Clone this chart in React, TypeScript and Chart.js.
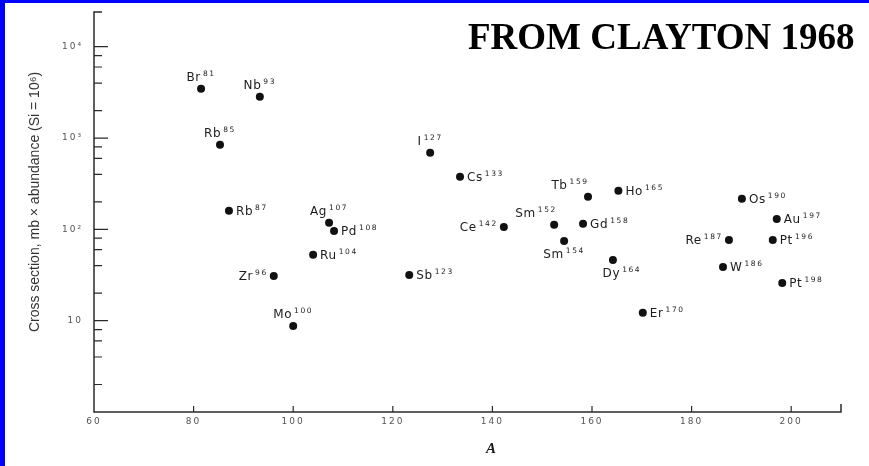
import React, { useEffect, useRef } from 'react';
import { Chart, registerables } from 'chart.js';

Chart.register(...registerables);

// ---- Data (Clayton 1968) ----
const symbols = ['Br', 'Nb', 'Rb', 'Rb', 'Zr', 'Mo', 'Ru', 'Ag', 'Pd', 'Sb', 'I', 'Cs', 'Ce', 'Sm', 'Sm', 'Gd', 'Tb', 'Dy', 'Ho', 'Er', 'W', 'Re', 'Os', 'Pt', 'Au', 'Pt'];
const massNumbers = [81, 93, 85, 87, 96, 100, 104, 107, 108, 123, 127, 133, 142, 152, 154, 158, 159, 164, 165, 170, 186, 187, 190, 196, 197, 198];
const aValues = [81.5, 93.3, 85.3, 87.1, 96.1, 100.0, 104.0, 107.2, 108.2, 123.3, 127.5, 133.5, 142.3, 152.4, 154.4, 158.2, 159.2, 164.2, 165.3, 170.2, 186.3, 187.5, 190.1, 196.3, 197.1, 198.2];
const sigmaN = [3467, 2832, 843, 160, 30.9, 8.75, 52.6, 118, 96, 31.7, 689, 376, 106, 112, 74.8, 115, 227, 46.3, 264, 12.2, 38.8, 76.7, 216, 76.7, 130, 25.9];
const labelPlacement = ['above', 'above', 'above', 'right', 'left', 'above', 'right', 'above', 'right', 'right', 'above', 'right', 'left', 'aboveLeft', 'below', 'right', 'aboveLeft', 'belowRight', 'right', 'right', 'right', 'left', 'right', 'right', 'right', 'right'];

const xTicks = [60, 80, 100, 120, 140, 160, 180, 200];
const yMajorTicks = [10, 100, 1000, 10000];
const yMajorLabels = ['10', '10²', '10³', '10⁴'];
const yMinorTicks = [2, 4, 6, 8, 20, 40, 60, 80, 200, 400, 600, 800, 2000, 4000, 6000, 8000];

const titleText = 'FROM CLAYTON 1968';
const yTitle = 'Cross section, mb × abundance (Si = 10⁶)';
const xTitle = 'A';

const INK = '#1c1c1c';

function drawLabel(ctx: CanvasRenderingContext2D, sym: string, mass: number, px: number, py: number, place: string) {
  const symFont = '12px "DejaVu Sans"';
  const supFont = '7.5px "DejaVu Sans"';
  ctx.font = symFont;
  (ctx as any).letterSpacing = '0.6px';
  const w1 = ctx.measureText(sym).width;
  ctx.font = supFont;
  (ctx as any).letterSpacing = '1.6px';
  const sup = String(mass);
  const w2 = ctx.measureText(sup).width;
  const gap = 2;
  const total = w1 + gap + w2;
  let x0 = px + 7;
  let base = py + 4;
  switch (place) {
    case 'above': x0 = px - total / 2; base = py - 8; break;
    case 'aboveLeft': x0 = px - 18 - total / 2; base = py - 8; break;
    case 'right': x0 = px + 7; base = py + 4; break;
    case 'left': x0 = px - 6 - total; base = py + 4; break;
    case 'below': x0 = px - total / 2; base = py + 17; break;
    case 'belowRight': x0 = px + 9 - total / 2; base = py + 17; break;
  }
  ctx.fillStyle = INK;
  ctx.textAlign = 'left';
  ctx.textBaseline = 'alphabetic';
  ctx.font = symFont;
  (ctx as any).letterSpacing = '0.6px';
  ctx.fillText(sym, x0, base);
  ctx.font = supFont;
  (ctx as any).letterSpacing = '1.6px';
  ctx.fillText(sup, x0 + w1 + gap, base - 5);
  (ctx as any).letterSpacing = '0px';
}

const decorPlugin = {
  id: 'decor',
  beforeDraw(chart: any) {
    (chart.ctx as any).letterSpacing = '2px';
  },
  beforeDatasetsDraw(chart: any) {
    (chart.ctx as any).letterSpacing = '0px';
  },
  afterDraw(chart: any) {
    const ctx: CanvasRenderingContext2D = chart.ctx;
    const xs = chart.scales.x;
    const ys = chart.scales.y;
    const { left, right, top, bottom } = chart.chartArea;
    ctx.save();
    (ctx as any).letterSpacing = '0px';

    // axes
    ctx.strokeStyle = '#2a2a2a';
    ctx.lineWidth = 1.5;
    ctx.beginPath();
    ctx.moveTo(left + 8, top);
    ctx.lineTo(left, top);
    ctx.lineTo(left, bottom);
    ctx.lineTo(right, bottom);
    ctx.lineTo(right, bottom - 8);
    ctx.stroke();

    ctx.lineWidth = 1.2;
    ctx.beginPath();
    for (const v of xTicks.slice(1)) {
      const x = xs.getPixelForValue(v);
      ctx.moveTo(x, bottom);
      ctx.lineTo(x, bottom - 6);
    }
    for (const v of yMajorTicks) {
      const y = ys.getPixelForValue(v);
      ctx.moveTo(left, y);
      ctx.lineTo(left + 14, y);
    }
    for (const v of yMinorTicks) {
      const y = ys.getPixelForValue(v);
      ctx.moveTo(left, y);
      ctx.lineTo(left + 8, y);
    }
    ctx.stroke();

    // point labels
    const meta = chart.getDatasetMeta(0);
    meta.data.forEach((pt: any, i: number) => {
      drawLabel(ctx, symbols[i], massNumbers[i], pt.x, pt.y, labelPlacement[i]);
    });

    // y title
    ctx.save();
    ctx.translate(35, 202);
    ctx.rotate(-Math.PI / 2);
    ctx.font = '14px "Liberation Sans"';
    ctx.fillStyle = '#333';
    ctx.textAlign = 'center';
    ctx.textBaseline = 'middle';
    ctx.fillText(yTitle, 0, 0);
    ctx.restore();

    // x title
    ctx.font = 'italic bold 15px "Liberation Serif"';
    ctx.fillStyle = INK;
    ctx.textAlign = 'center';
    ctx.textBaseline = 'alphabetic';
    ctx.fillText(xTitle, 491, 453);

    // main title
    ctx.font = 'bold 37px "Liberation Serif"';
    ctx.fillStyle = '#000';
    ctx.textAlign = 'left';
    ctx.fillText(titleText, 468, 49);

    // blue frame
    ctx.fillStyle = '#0000ff';
    ctx.fillRect(0, 0, 5, chart.height);
    ctx.fillRect(0, 0, chart.width, 3);
    ctx.restore();
  },
};

export default function App() {
  const ref = useRef<HTMLCanvasElement | null>(null);
  useEffect(() => {
    document.body.style.margin = '0';
    if (!ref.current) return;
    const chart = new Chart(ref.current, {
      type: 'scatter',
      data: {
        datasets: [
          {
            data: aValues.map((x, i) => ({ x, y: sigmaN[i] })),
            pointRadius: 4,
            pointBackgroundColor: '#111',
            pointBorderColor: '#111',
            pointBorderWidth: 0,
          },
        ],
      },
      options: {
        animation: false,
        responsive: false,
        layout: { padding: { top: 12, right: 28, left: 0, bottom: 0 } },
        plugins: { legend: { display: false }, tooltip: { enabled: false } },
        scales: {
          x: {
            type: 'linear',
            min: 60,
            max: 210,
            afterFit: (s: any) => { s.height = 54; s.paddingLeft = 0; s.paddingRight = 0; },
            afterBuildTicks: (s: any) => { s.ticks = xTicks.map((v) => ({ value: v })); },
            grid: { display: false, drawTicks: false },
            border: { display: false },
            ticks: {
              padding: 4,
              autoSkip: false,
              maxRotation: 0,
              color: '#555',
              font: { family: 'DejaVu Sans', size: 9 },
              callback: (v: any) => String(v),
            },
          },
          y: {
            type: 'logarithmic',
            min: 1,
            max: 24000,
            afterFit: (s: any) => { s.width = 94; s.paddingTop = 0; s.paddingBottom = 0; },
            afterBuildTicks: (s: any) => {
              s.ticks = yMajorTicks.map((v) => ({ value: v, major: true }));
            },
            grid: { display: false, drawTicks: false },
            border: { display: false },
            ticks: {
              padding: 11,
              autoSkip: false,
              color: '#555',
              font: { family: 'DejaVu Sans', size: 9 },
              callback: (v: any) => {
                const idx = yMajorTicks.indexOf(Number(v));
                return idx >= 0 ? yMajorLabels[idx] : '';
              },
            },
          },
        },
      } as any,
      plugins: [decorPlugin as any],
    });
    return () => chart.destroy();
  }, []);
  return <canvas ref={ref} width={869} height={466} style={{ display: 'block' }} />;
}
